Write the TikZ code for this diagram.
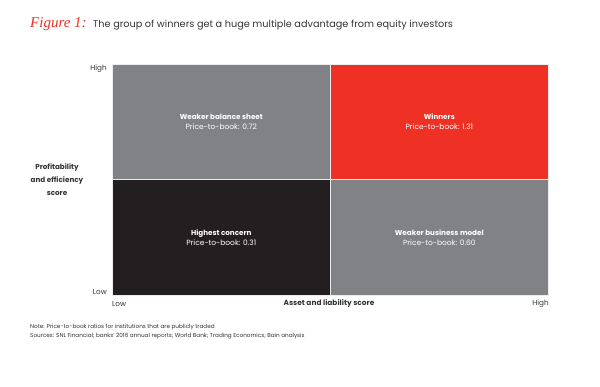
\documentclass[tikz,border=0pt]{standalone}
\usepackage{fontspec}
\setmainfont{Poppins}
\newfontfamily\scriptfnt{Liberation Serif}
\definecolor{bainred}{HTML}{EE3124}
\definecolor{baingray}{HTML}{808285}
\definecolor{bainblack}{HTML}{231F20}
\definecolor{inkgray}{HTML}{333333}
\begin{document}
\begin{tikzpicture}[x=1pt, y=-1pt, line join=round, line cap=round,
		cell/.style={minimum width=218pt, minimum height=115.5pt, inner sep=0pt, draw=white!85!gray, line width=0.6pt, text=white, align=center, font=\fontsize{7.5}{9.8}\selectfont},
		axlab/.style={text=inkgray, font=\fontsize{7.3}{8}\selectfont, inner sep=0pt},
		note/.style={text=inkgray, font=\fontsize{5.7}{6}\selectfont, inner sep=0pt, anchor=west}]
	\def\xl{112} \def\xm{330} \def\xr{549}
	\def\yt{64} \def\ym{179.5} \def\yb{295}
	\useasboundingbox (0,0) rectangle (600,387);
	% titel
	\node[anchor=base west, inner sep=0pt, text=bainred, font=\scriptfnt\itshape\fontsize{15}{16}\selectfont] (fig) at (30,28) {Figure 1:};
	\node[anchor=base west, inner sep=0pt, text=inkgray, font=\fontsize{9.7}{12}\selectfont] (title) at (93,28) {The group of winners get a huge multiple advantage from equity investors};
	% vier kwadranten
	\node[cell, fill=baingray, anchor=north west] (wbs) at (\xl,\yt) {{\fontsize{7.2}{9}\selectfont\textbf{Weaker balance sheet}}\\Price-to-book: 0.72};
	\node[cell, fill=bainred, anchor=north west] (win) at (\xm,\yt) {{\fontsize{7.2}{9}\selectfont\textbf{Winners}}\\Price-to-book: 1.31};
	\node[cell, fill=bainblack, anchor=north west] (hc) at (\xl,\ym) {{\fontsize{7.2}{9}\selectfont\textbf{Highest concern}}\\Price-to-book: 0.31};
	\node[cell, fill=baingray, anchor=north west] (wbm) at (\xm,\ym) {{\fontsize{7.2}{9}\selectfont\textbf{Weaker business model}}\\Price-to-book: 0.60};
	% assen
	\node[axlab, anchor=east] (yhigh) at (107,69) {High};
	\node[axlab, anchor=east] (ylow) at (107,292) {Low};
	\node[axlab, anchor=west] (xlow) at (\xl,304) {Low};
	\node[axlab, anchor=east] (xhigh) at (\xr,304) {High};
	\node[axlab, font=\bfseries\fontsize{7.4}{8}\selectfont] (xtitle) at (329,304) {Asset and liability score};
	\node[axlab, align=center, font=\bfseries\fontsize{7.2}{13}\selectfont] (ytitle) at (57,180) {Profitability\\and efficiency\\score};
	% noten
	\node[note] (nt) at (30,327) {Note: Price-to-book ratios for institutions that are publicly traded};
	\node[note] (src) at (30,336) {Sources: SNL Financial; banks' 2016 annual reports; World Bank; Trading Economics; Bain analysis};
\end{tikzpicture}
\end{document}
